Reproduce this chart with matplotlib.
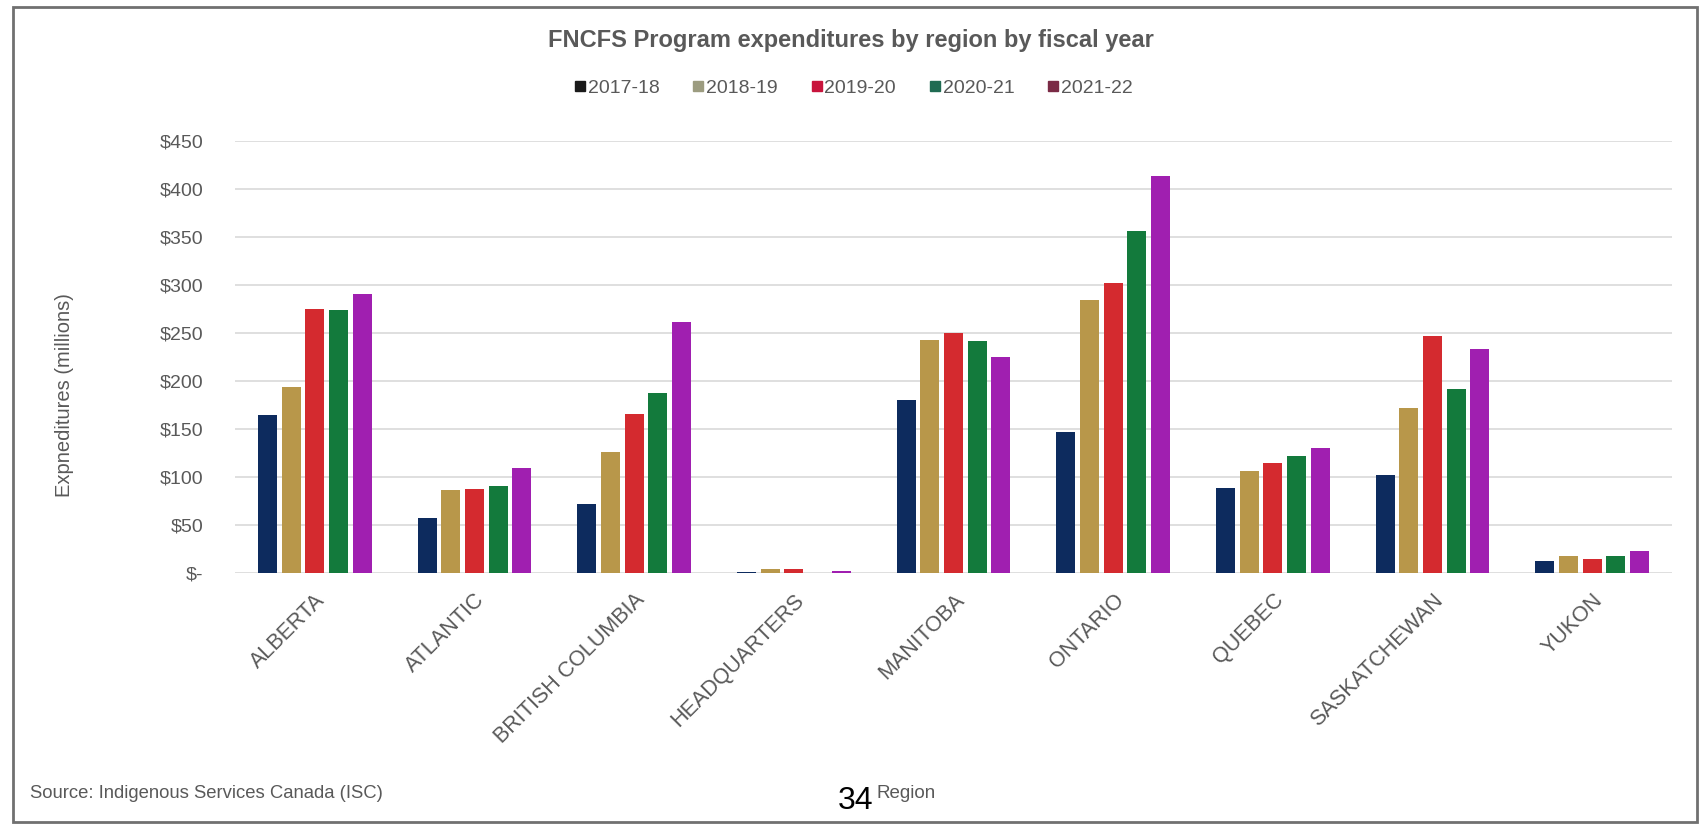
import matplotlib.pyplot as plt
from matplotlib.patches import Rectangle
from matplotlib.lines import Line2D
import numpy as np

# Values (millions of dollars)
regions = ['ALBERTA', 'ATLANTIC', 'BRITISH COLUMBIA', 'HEADQUARTERS', 'MANITOBA',
           'ONTARIO', 'QUEBEC', 'SASKATCHEWAN', 'YUKON']
years = ['2017-18', '2018-19', '2019-20', '2020-21', '2021-22']
fy_2017 = [165, 57, 72, 1, 180, 147, 89, 102, 13]
fy_2018 = [194, 86, 126, 4, 243, 284, 106, 172, 18]
fy_2019 = [275, 87, 166, 4, 250, 302, 115, 247, 15]
fy_2020 = [274, 91, 187, 0.5, 242, 356, 122, 192, 18]
fy_2021 = [291, 109, 261, 2, 225, 414, 130, 233, 23]
yticks = [0, 50, 100, 150, 200, 250, 300, 350, 400, 450]
ytick_labels = ['$-', '$50', '$100', '$150', '$200', '$250', '$300', '$350', '$400', '$450']

series = [fy_2017, fy_2018, fy_2019, fy_2020, fy_2021]
bar_colors = ['#0d2b5e', '#b8974a', '#d42a2f', '#137a3c', '#a01fb0']
legend_colors = ['#1a1a1a', '#9c9c80', '#c8143c', '#1f6b52', '#7a2a45']
text_color = '#595959'

plt.rcParams['font.family'] = ['Liberation Sans', 'DejaVu Sans']

fig = plt.figure(figsize=(17.01, 8.25), dpi=100)
ax = fig.add_axes([235 / 1701, 1 - 573 / 825, (1672 - 235) / 1701, (573 - 141) / 825])

x = np.arange(len(regions))
width = 0.12
step = 0.148
for i, (vals, col) in enumerate(zip(series, bar_colors)):
    ax.bar(x + (i - 2) * step, vals, width, color=col, zorder=3)

ax.set_xlim(-0.5, len(regions) - 0.5)
ax.set_ylim(0, 450)
ax.set_yticks(yticks)
ax.set_yticklabels(ytick_labels, fontsize=14, color=text_color)
ax.set_xticks(x)
ax.set_xticklabels(regions, rotation=45, ha='right', rotation_mode='anchor',
                   fontsize=15.5, color=text_color)
ax.tick_params(axis='both', length=0)
ax.tick_params(axis='y', pad=23)
ax.tick_params(axis='x', pad=12)
ax.grid(axis='y', color='#d9d9d9', linewidth=1.2, zorder=0)
for s in ax.spines.values():
    s.set_visible(False)

fig.text(65 / 1701, 1 - 395 / 825, 'Expneditures (millions)', rotation=90,
         ha='center', va='center', fontsize=14.5, color=text_color)

fig.text(0.5, 1 - 40 / 825, 'FNCFS Program expenditures by region by fiscal year',
         ha='center', va='center', fontsize=17, fontweight='bold', color=text_color)

handles = [Line2D([], [], marker='s', linestyle='', markersize=7, color=c) for c in legend_colors]
fig.legend(handles, years, loc='center', bbox_to_anchor=(0.5, 1 - 88 / 825), ncol=5,
           frameon=False, fontsize=14, handletextpad=-0.2, columnspacing=1.4,
           handlelength=1.2, labelcolor=text_color)

fig.text(30 / 1701, 1 - 793 / 825, 'Source: Indigenous Services Canada (ISC)',
         ha='left', va='center', fontsize=13.3, color=text_color)
fig.text(838 / 1701, 1 - 801 / 825, '34', ha='left', va='center', fontsize=23, color='black')
fig.text(876 / 1701, 1 - 793 / 825, 'Region', ha='left', va='center', fontsize=13.5,
         color=text_color)

# outer frame
fig.patches.append(Rectangle((13 / 1701, 3 / 825), (1697 - 13) / 1701, (818 - 3) / 825,
                             transform=fig.transFigure, fill=False,
                             edgecolor='#707070', linewidth=2))

fig.savefig('out.png', dpi=100)
